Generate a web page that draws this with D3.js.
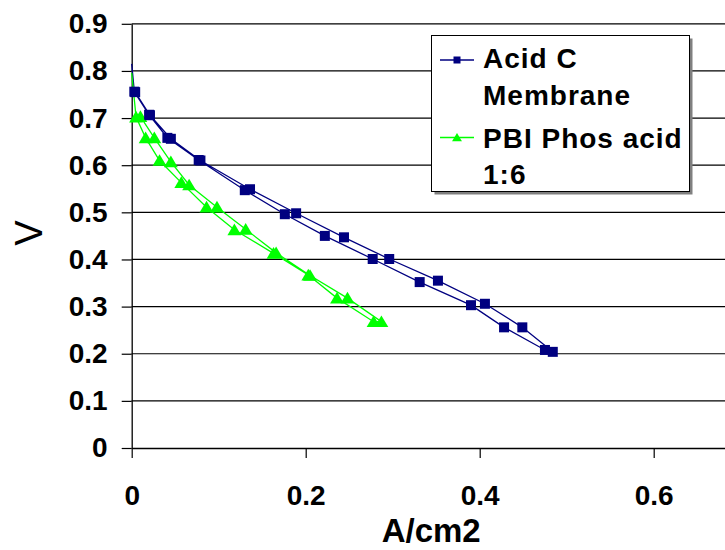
<!DOCTYPE html>
<html>
<head>
<meta charset="utf-8">
<script src="https://cdn.jsdelivr.net/npm/d3@7"></script>
<style>
  body { margin: 0; background: #fff; }
  text { font-family: "Liberation Sans", Arial, sans-serif; }
</style>
</head>
<body>
<div id="chart"></div>
<script>
// Data (sweep down, then back up)
const acidCurrent = [0, 0.003, 0.020, 0.041, 0.077, 0.130, 0.176, 0.222, 0.277, 0.331, 0.390, 0.428, 0.475,
                     0.484, 0.449, 0.406, 0.352, 0.296, 0.244, 0.189, 0.136, 0.079, 0.045, 0.021, 0.004];
const acidVoltage = [0.815, 0.756, 0.707, 0.658, 0.611, 0.547, 0.496, 0.450, 0.401, 0.352, 0.303, 0.256, 0.208,
                     0.204, 0.256, 0.306, 0.355, 0.401, 0.447, 0.498, 0.549, 0.610, 0.656, 0.706, 0.755];
const pbiCurrent = [0, 0.005, 0.016, 0.032, 0.057, 0.086, 0.118, 0.163, 0.203, 0.236, 0.278,
                    0.287, 0.248, 0.205, 0.166, 0.131, 0.098, 0.066, 0.045, 0.026, 0.010];
const pbiVoltage = [0.796, 0.702, 0.658, 0.610, 0.563, 0.511, 0.463, 0.413, 0.367, 0.318, 0.268,
                    0.268, 0.318, 0.366, 0.414, 0.464, 0.511, 0.558, 0.607, 0.658, 0.703];
const xTicks = [0, 0.2, 0.4, 0.6];
const yTicks = [0, 0.1, 0.2, 0.3, 0.4, 0.5, 0.6, 0.7, 0.8, 0.9];
const seriesNames = [["Acid C", "Membrane"], ["PBI Phos acid", "1:6"]];

const width = 725, height = 550;
const navy = "#000080", green = "#00ff00";

const svg = d3.select("#chart").append("svg")
    .attr("width", width)
    .attr("height", height);

// Scales (plot runs past the right edge of the picture)
const x = d3.scaleLinear().domain([0, 0.7]).range([131.7, 740.7]);
const y = d3.scaleLinear().domain([0, 0.9]).range([448, 23.8]);

// Horizontal grid lines
svg.append("g")
    .selectAll("line")
    .data(yTicks.filter(d => d > 0))
    .enter().append("line")
    .attr("x1", x(0)).attr("x2", x(0.7))
    .attr("y1", d => y(d)).attr("y2", d => y(d))
    .attr("stroke", "#000")
    .attr("stroke-width", 1.2);

const fmt = d => d === 0 ? "0" : d3.format(".1f")(d);

// Y axis
const yAxis = svg.append("g")
    .attr("transform", `translate(${x(0)},0)`)
    .call(d3.axisLeft(y).tickValues(yTicks).tickFormat(fmt).tickSize(10).tickSizeOuter(0).tickPadding(14));
// X axis
const xAxis = svg.append("g")
    .attr("transform", `translate(0,${y(0)})`)
    .call(d3.axisBottom(x).tickValues(xTicks).tickFormat(fmt).tickSize(10).tickSizeOuter(0).tickPadding(27));

[yAxis, xAxis].forEach(a => {
    a.select(".domain").attr("stroke", "#000").attr("stroke-width", 1.3);
    a.selectAll(".tick line").attr("stroke", "#000").attr("stroke-width", 1.2);
    a.selectAll("text")
        .attr("fill", "#000")
        .style("font-size", "28px")
        .style("font-weight", "bold")
        .style("font-family", "'Liberation Sans', Arial, sans-serif");
});

// Axis titles
svg.append("text")
    .attr("x", x(0.35) - 5)
    .attr("y", 542)
    .attr("text-anchor", "middle")
    .style("font-size", "33px")
    .style("font-weight", "bold")
    .text("A/cm2");

svg.append("text")
    .attr("transform", "translate(42,233) rotate(-90)")
    .attr("text-anchor", "middle")
    .style("font-size", "38px")
    .text("V");

// Lines
const line = d3.line()
    .x(d => x(d[0]))
    .y(d => y(d[1]));

const acid = d3.zip(acidCurrent, acidVoltage);
const pbi = d3.zip(pbiCurrent, pbiVoltage);

svg.append("path")
    .datum(acid)
    .attr("fill", "none")
    .attr("stroke", navy)
    .attr("stroke-width", 1.3)
    .attr("d", line);

svg.append("path")
    .datum(pbi)
    .attr("fill", "none")
    .attr("stroke", green)
    .attr("stroke-width", 1.3)
    .attr("d", line);

const triangle = s => `M0,${-s} L${s * 1.1},${s * 0.85} L${-s * 1.1},${s * 0.85} Z`;

// Markers (no marker on the open-circuit point)
svg.append("g")
    .selectAll("path")
    .data(pbi.slice(1))
    .enter().append("path")
    .attr("transform", d => `translate(${x(d[0])},${y(d[1])})`)
    .attr("d", triangle(6.3))
    .attr("fill", green);

svg.append("g")
    .selectAll("rect")
    .data(acid.slice(1))
    .enter().append("rect")
    .attr("x", d => x(d[0]) - 5)
    .attr("y", d => y(d[1]) - 5)
    .attr("width", 10)
    .attr("height", 10)
    .attr("fill", navy);

// Legend
const legend = svg.append("g");
legend.append("rect")
    .attr("x", 434.5).attr("y", 38.5)
    .attr("width", 258).attr("height", 156)
    .attr("fill", "#808080");
legend.append("rect")
    .attr("x", 431.5).attr("y", 35.5)
    .attr("width", 258).attr("height", 156)
    .attr("fill", "#fff")
    .attr("stroke", "#000")
    .attr("stroke-width", 1);

const legendY = [60, 137.5];
const textY = [[68, 104.5], [148, 183.5]];
[navy, green].forEach((c, i) => {
    legend.append("line")
        .attr("x1", 440).attr("x2", 474)
        .attr("y1", legendY[i]).attr("y2", legendY[i])
        .attr("stroke", c)
        .attr("stroke-width", 1.3);
    if (i === 0) {
        legend.append("rect")
            .attr("x", 453.5).attr("y", legendY[i] - 3.5)
            .attr("width", 7).attr("height", 7)
            .attr("fill", c);
    } else {
        legend.append("path")
            .attr("transform", `translate(457,${legendY[i]})`)
            .attr("d", triangle(4.5))
            .attr("fill", c);
    }
    seriesNames[i].forEach((t, j) => {
        legend.append("text")
            .attr("x", 483)
            .attr("y", textY[i][j])
            .style("font-size", "28px")
            .style("font-weight", "bold")
            .style("letter-spacing", "1px")
            .text(t);
    });
});
</script>
</body>
</html>
